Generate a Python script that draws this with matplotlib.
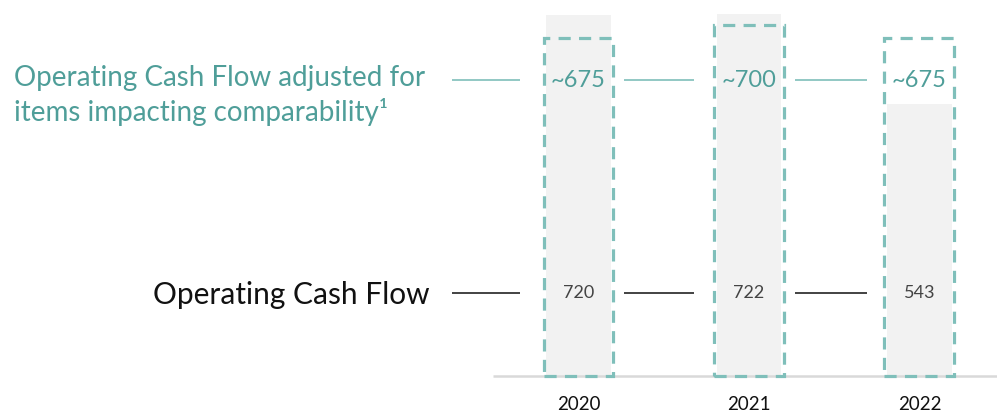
import matplotlib.pyplot as plt

# operating cash flow, $ millions
years = ['2020', '2021', '2022']
ocf = [720, 722, 543]
ocf_adj = [675, 700, 675]
ocf_adj_labels = ['~675', '~700', '~675']

teal = '#4f9e99'
teal_light = '#7fbfba'
grey_bar = '#f2f2f2'

plt.rcParams['font.family'] = ['Lato', 'DejaVu Sans']

fig = plt.figure(figsize=(9.97, 4.15), dpi=100)
ax = fig.add_axes([0, 0, 1, 1])
ax.set_xlim(-3.393, 2.455)
ax.set_ylim(-77.8, 750)
ax.axis('off')

x = range(len(years))
ax.bar(x, ocf, width=0.38, color=grey_bar, zorder=1)
ax.bar(x, ocf_adj, width=0.41, fill=False, edgecolor=teal_light,
       linewidth=2.3, linestyle=(0, (3.8, 2.6)), zorder=3)

# baseline
ax.hlines(0, -0.5, 2.455, color='#d9d9d9', linewidth=1.8, zorder=2)

# leader lines between the row labels and the bars
y_adj, y_ocf = 590, 165
seg_starts = [-0.74, 0.27, 1.27]
seg_ends = [-0.34, 0.68, 1.69]
ax.hlines([y_adj] * 3, seg_starts, seg_ends, color=teal_light, linewidth=1.2)
ax.hlines([y_ocf] * 3, seg_starts, seg_ends, color='#222222', linewidth=1.2)

for i in x:
    ax.text(i, y_adj, ocf_adj_labels[i], ha='center', va='center',
            fontsize=17, color=teal, zorder=4)
    ax.text(i, y_ocf, str(ocf[i]), ha='center', va='center',
            fontsize=13, color='#444444', zorder=4)
    ax.text(i, -57, years[i], ha='center', va='center',
            fontsize=13.5, color='#111111')

fig.text(14 / 997, 1 - 78 / 415, 'Operating Cash Flow adjusted for',
         ha='left', va='center', fontsize=20, color=teal)
fig.text(14 / 997, 1 - 112 / 415, 'items impacting comparability¹',
         ha='left', va='center', fontsize=20, color=teal)
fig.text(430 / 997, 1 - 295 / 415, 'Operating Cash Flow',
         ha='right', va='center', fontsize=21.5, color='#111111')

fig.savefig('out.png', dpi=100)
